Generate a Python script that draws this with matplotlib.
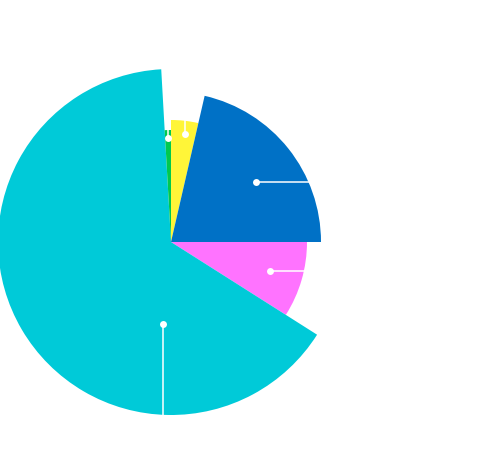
import numpy as np
import matplotlib
matplotlib.use("Agg")
import matplotlib.pyplot as plt
from matplotlib.patches import Wedge

# Data (clockwise from 12 o'clock)
categories = ["A", "B", "C", "D", "E"]
values = [3.6, 21.4, 9.0, 65.1, 0.9]
radius_values = [122, 150, 136, 173, 112]
colors = ["#FFF538", "#0071C6", "#FF73FF", "#00CAD8", "#00C94F"]
# leader anchors (polar, relative to pie centre)
leader_angle = [82.6, 35.2, -16.3, 264.4, 91.6]
leader_r = [109, 104, 103, 82, 104]
leader_dir = ["up", "right", "right", "down", "up"]

W, H = 496, 461
fig = plt.figure(figsize=(W / 100, H / 100), dpi=100)
ax = fig.add_axes([0, 0, 1, 1])
ax.set_xlim(0, W)
ax.set_ylim(0, H)
ax.set_aspect("equal")
ax.axis("off")

cx, cy = 171, H - 242
total = sum(values)
start = 90.0
for i, v in enumerate(values):
    sweep = v / total * 360.0
    end = start - sweep
    ax.add_patch(Wedge((cx, cy), radius_values[i], end, start,
                       facecolor=colors[i], edgecolor="none", lw=0))
    start = end

for i in range(len(values)):
    a = np.deg2rad(leader_angle[i])
    px = cx + leader_r[i] * np.cos(a)
    py = cy + leader_r[i] * np.sin(a)
    if leader_dir[i] == "right":
        qx, qy = px + 120, py
    elif leader_dir[i] == "up":
        qx, qy = px, py + 60
    else:
        qx, qy = px, py - 120
    ax.plot([px, qx], [py, qy], color="white", lw=1.1, solid_capstyle="butt")
    ax.plot([px], [py], "o", color="white", ms=5, mew=0)

fig.savefig("out.png", dpi=100, facecolor="white")
